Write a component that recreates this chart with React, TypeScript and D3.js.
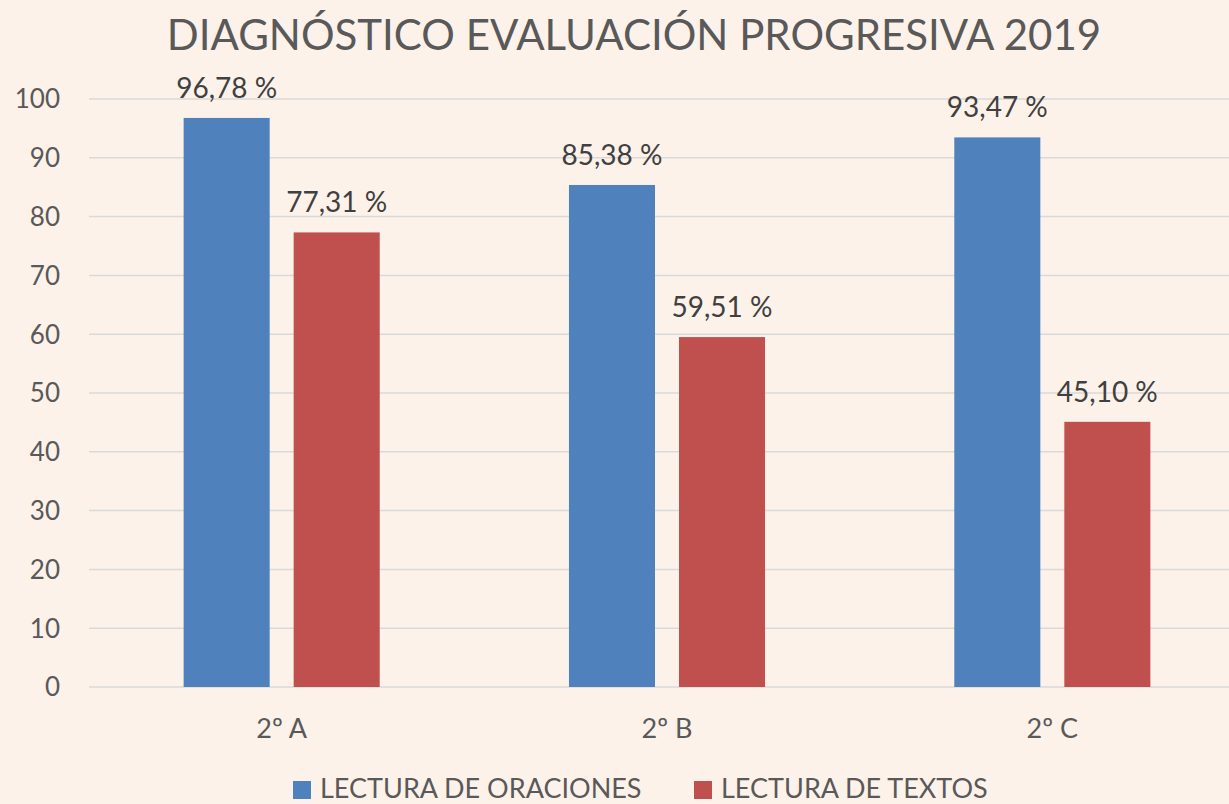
import React from 'react';
import * as d3 from 'd3';

const categories: string[] = ['2º A', '2º B', '2º C'];
const seriesNames: string[] = ['LECTURA DE ORACIONES', 'LECTURA DE TEXTOS'];
const oraciones: number[] = [96.78, 85.38, 93.47];
const textos: number[] = [77.31, 59.51, 45.1];
const yTicks: number[] = [0, 10, 20, 30, 40, 50, 60, 70, 80, 90, 100];

const colors = ['#4f81bd', '#c0504d'];
const width = 1229;
const height = 804;
const font = 'Lato, "Open Sans", sans-serif';

function App() {
    const x = d3.scaleBand<string>().domain(categories).range([89, 1245]);
    const inner = d3.scaleBand<string>().domain(seriesNames).range([0, x.bandwidth()]).paddingInner(0.218).paddingOuter(0.86);
    const y = d3.scaleLinear().domain([0, 100]).range([687, 99]);
    const series = [oraciones, textos];
    const fmt = (v: number) => v.toFixed(2).replace('.', ',') + ' %';

    return (
        <svg width={width} height={height} style={{ display: 'block', position: 'fixed', left: 0, top: 0 }}>
            <rect width={width} height={height} fill="#fdf2ea" />
            <text x={634} y={50} textAnchor="middle" fontFamily={font} fontSize={42} fill="#595959">
                DIAGNÓSTICO EVALUACIÓN PROGRESIVA 2019
            </text>
            {yTicks.map(t => (
                <g key={t}>
                    <line x1={89} x2={1229} y1={y(t)} y2={y(t)} stroke="#d9d9d9" strokeWidth={1.5} />
                    <text x={60} y={y(t)} dy="0.36em" textAnchor="end" fontFamily={font} fontSize={26} fill="#595959">{t}</text>
                </g>
            ))}
            {categories.map((c, i) => (
                <g key={c} transform={`translate(${x(c)},0)`}>
                    {seriesNames.map((s, j) => (
                        <g key={s}>
                            <rect x={inner(s)} y={y(series[j][i])} width={inner.bandwidth()} height={y(0) - y(series[j][i])} fill={colors[j]} />
                            <text x={(inner(s) as number) + inner.bandwidth() / 2} y={y(series[j][i]) - 20} textAnchor="middle" fontFamily={font} fontSize={28} fill="#404040">
                                {fmt(series[j][i])}
                            </text>
                        </g>
                    ))}
                    <text x={x.bandwidth() / 2} y={738} textAnchor="middle" fontFamily={font} fontSize={27} fill="#595959">{c}</text>
                </g>
            ))}
            {seriesNames.map((s, j) => {
                const lx = j === 0 ? 293 : 694;
                return (
                    <g key={s}>
                        <rect x={lx} y={781} width={18} height={18} fill={colors[j]} />
                        <text x={lx + 27} y={798} fontFamily={font} fontSize={27} fill="#595959">{s}</text>
                    </g>
                );
            })}
        </svg>
    );
}

export default App;
